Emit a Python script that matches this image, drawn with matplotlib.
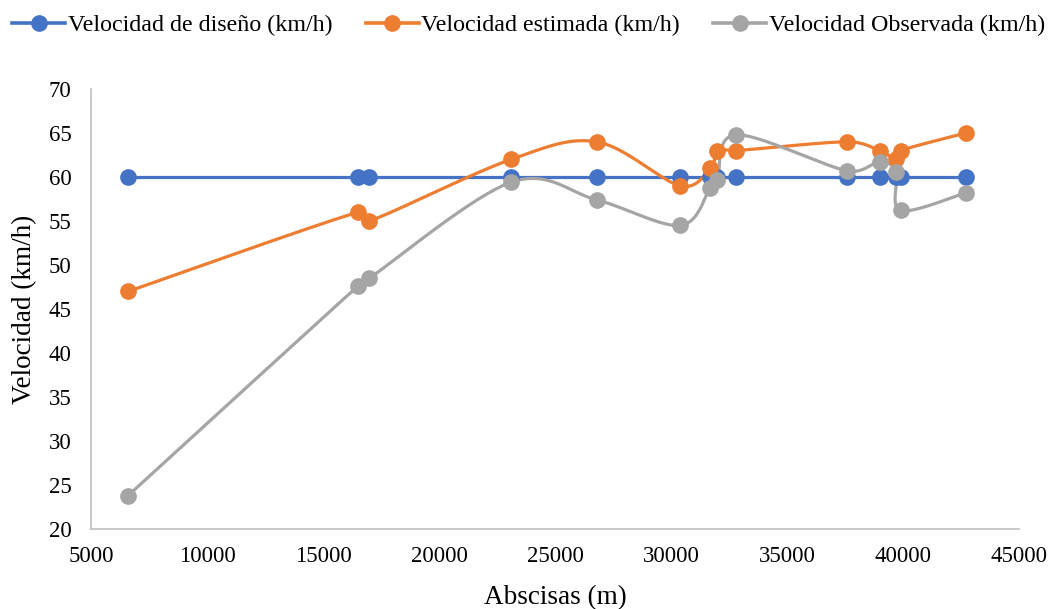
import numpy as np
import matplotlib
matplotlib.use("Agg")
import matplotlib.pyplot as plt
from matplotlib.lines import Line2D

abscisas = [6600, 16500, 17000, 23100, 26800, 30400, 31700, 32000, 32800, 37600, 39000, 39700, 39900, 42700]
v_diseno = [60, 60, 60, 60, 60, 60, 60, 60, 60, 60, 60, 60, 60, 60]
v_estimada = [47, 56, 55, 62, 64, 59, 61, 63, 63, 64, 63, 62, 63, 65]
v_observada = [23.8, 47.6, 48.5, 59.4, 57.4, 54.5, 58.8, 59.7, 64.8, 60.7, 61.7, 60.6, 56.2, 58.2]

labels = ["Velocidad de diseño (km/h)", "Velocidad estimada (km/h)", "Velocidad Observada (km/h)"]
colors = ["#4472C4", "#ED7D31", "#A5A5A5"]

plt.rcParams['font.family'] = ['Liberation Serif', 'DejaVu Serif']

fig = plt.figure(figsize=(10.57, 6.09), dpi=100)
ax = fig.add_axes([0.0861, 0.1314, 0.878, 0.7224])

XMIN, XMAX, YMIN, YMAX = 5000, 45000, 20, 70
W_PX, H_PX = 928.0, 440.0


def smooth(xs, ys, n=40):
    # Excel-like smoothing (Catmull-Rom Bezier with clamped handles) in screen space
    px = (np.asarray(xs, float) - XMIN) / (XMAX - XMIN) * W_PX
    py = (np.asarray(ys, float) - YMIN) / (YMAX - YMIN) * H_PX
    P = np.column_stack([px, py])
    out = [P[0]]
    m = len(P)
    for i in range(m - 1):
        p0 = P[i - 1] if i > 0 else P[i]
        p1 = P[i]
        p2 = P[i + 1]
        p3 = P[i + 2] if i + 2 < m else P[i + 1]
        seg = np.linalg.norm(p2 - p1)
        h1 = (p2 - p0) / 6.0
        h2 = (p3 - p1) / 6.0
        lim = seg * 0.5
        n1 = np.linalg.norm(h1)
        n2 = np.linalg.norm(h2)
        if n1 > lim and n1 > 0:
            h1 = h1 * lim / n1
        if n2 > lim and n2 > 0:
            h2 = h2 * lim / n2
        c1 = p1 + h1
        c2 = p2 - h2
        t = np.linspace(0, 1, n)[1:, None]
        b = ((1 - t) ** 3) * p1 + 3 * ((1 - t) ** 2) * t * c1 + 3 * (1 - t) * t ** 2 * c2 + t ** 3 * p2
        out.extend(b)
    out = np.array(out)
    return out[:, 0] / W_PX * (XMAX - XMIN) + XMIN, out[:, 1] / H_PX * (YMAX - YMIN) + YMIN


for ys, c in zip([v_diseno, v_estimada, v_observada], colors):
    sx, sy = smooth(abscisas, ys)
    ax.plot(sx, sy, color=c, lw=2.3, solid_capstyle='round', zorder=2)
for ys, c in zip([v_diseno, v_estimada, v_observada], colors):
    ax.plot(abscisas, ys, 'o', color=c, ms=11, zorder=3)

ax.set_xlim(XMIN, XMAX)
ax.set_ylim(YMIN, YMAX)
ax.set_xticks(range(5000, 45001, 5000))
ax.set_yticks(range(20, 71, 5))
ax.tick_params(length=0, labelsize=16.5, colors='#000000')
ax.tick_params(axis='y', pad=14)
ax.tick_params(axis='x', pad=12)
for s in ['top', 'right']:
    ax.spines[s].set_visible(False)
for s in ['left', 'bottom']:
    ax.spines[s].set_color('#BFBFBF')
    ax.spines[s].set_linewidth(1.2)

ax.set_xlabel("Abscisas (m)", fontsize=19.5, labelpad=13)
ax.set_ylabel("Velocidad (km/h)", fontsize=19.5, labelpad=8)

handles = [Line2D([0], [0], color=c, lw=2.6, marker='o', ms=11) for c in colors]
fig.legend(handles, labels, loc='upper center', bbox_to_anchor=(0.5, 1.012), ncol=3,
           frameon=False, fontsize=17.3, handlelength=2.2, columnspacing=1.4, handletextpad=0.1)

fig.savefig("out.png", dpi=100)
